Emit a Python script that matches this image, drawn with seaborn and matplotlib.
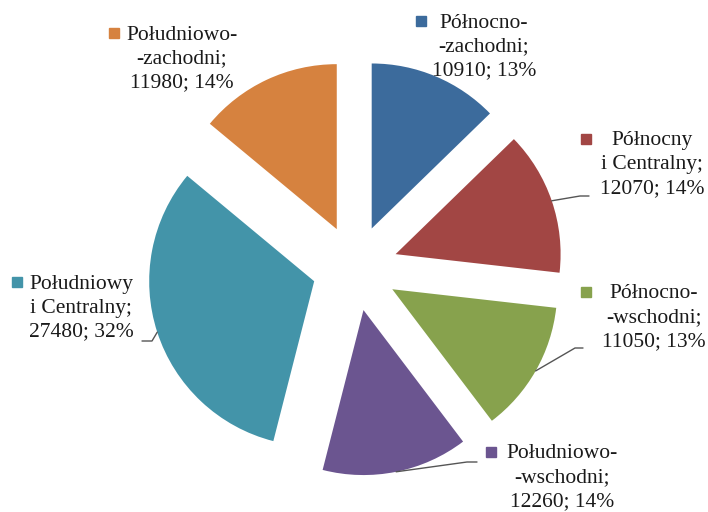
import matplotlib
matplotlib.use("Agg")
import matplotlib.pyplot as plt
import numpy as np
import seaborn as sns

# data
regions = [
    "Północno-\n-zachodni;",
    "Północny\ni Centralny;",
    "Północno-\n-wschodni;",
    "Południowo-\n-wschodni;",
    "Południowy\ni Centralny;",
    "Południowo-\n-zachodni;",
]
counts = [10910, 12070, 11050, 12260, 27480, 11980]
colors = ["#3C6B9C", "#A24644", "#87A24D", "#6B5590", "#4394A9", "#D6823F"]

W, H = 708, 512

# label layout in pixels: (centre x, first line y, key x)
label_pos = [
    (484, 23, 421),
    (652, 141, 586),
    (654, 294, 586),
    (562, 454, 491),
    (81, 284, 17),
    (182, 35, 114),
]
# leader line bends/ends in pixels (None = no leader)
leaders = [
    None,
    [(580, 196), (589, 196)],
    [(575, 348), (583, 348)],
    [(467, 462), (477, 462)],
    [(152, 341), (142, 341)],
    None,
]

sns.set_theme(style="white")
plt.rcParams["font.family"] = ["Liberation Serif", "DejaVu Serif"]
palette = sns.color_palette(colors)

fig = plt.figure(figsize=(W / 100, H / 100), dpi=100)
ax = fig.add_axes([0, 0, 1, 1])

radius = 165
wedges, _ = ax.pie(
    counts,
    colors=palette,
    startangle=90,
    counterclock=False,
    radius=radius,
    center=(355, H - 268),
    explode=[0.26 * radius] * len(counts),
    wedgeprops=dict(linewidth=0),
)
ax.set_aspect("auto")
ax.set_xlim(0, W)
ax.set_ylim(0, H)
ax.axis("off")

total = sum(counts)
line_gap = 24
for i, (name, value) in enumerate(zip(regions, counts)):
    cx, y0, kx = label_pos[i]
    pct = round(100 * value / total)
    lines = name.split("\n") + [f"{value}; {pct}%"]
    for j, line in enumerate(lines):
        ax.text(cx, H - (y0 + j * line_gap), line, ha="center", va="center",
                fontsize=15.5, color="#1a1a1a")
    ax.plot([kx], [H - y0 + 2], marker="s", ms=6.5, color=palette[i],
            linestyle="none")

    if leaders[i] is not None:
        w = wedges[i]
        mid = np.deg2rad((w.theta1 + w.theta2) / 2)
        sx = w.center[0] + w.r * np.cos(mid)
        sy = w.center[1] + w.r * np.sin(mid)
        xs = [sx] + [p[0] for p in leaders[i]]
        ys = [sy] + [H - p[1] for p in leaders[i]]
        ax.plot(xs, ys, color="#555555", lw=1)

fig.savefig("out.png", dpi=100)
